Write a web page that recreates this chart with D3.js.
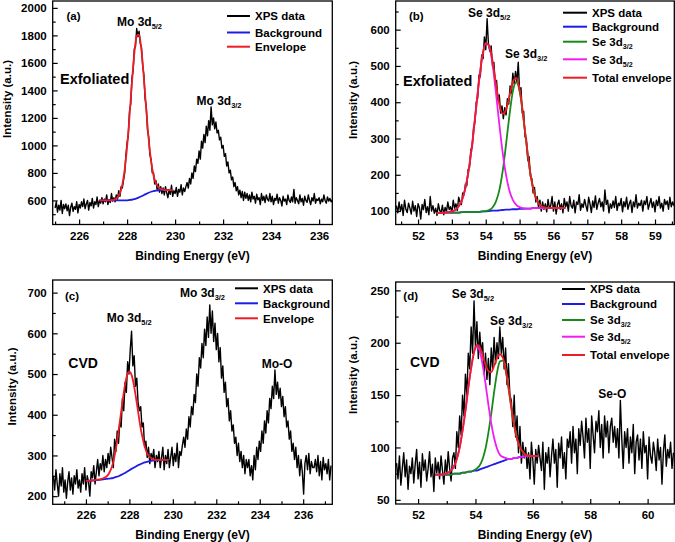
<!DOCTYPE html>
<html><head><meta charset="utf-8">
<script src="https://cdn.jsdelivr.net/npm/d3@7"></script>
<style>
body{margin:0;background:#fff;}
svg{display:block;}
text{font-family:"Liberation Sans",Arial,sans-serif;font-weight:bold;fill:#000;}
</style></head><body>
<svg id="chart" width="675" height="542"></svg>
<script>
// ---------- Panel (a): Mo 3d, exfoliated ----------
const xpsAStart = 225.0, xpsAStep = 0.05;
const xpsA = [
545,590,515,565,530,600,505,570,540,575,
525,565,490,550,580,520,555,535,590,510,
570,545,590,555,610,540,575,600,530,585,
560,615,545,590,570,625,555,600,580,620,
575,610,590,640,570,605,585,650,595,620,
590,640,610,670,630,700,690,745,800,930,
1020,1070,1250,1300,1490,1540,1700,1720,1850,1790,
1830,1740,1710,1580,1510,1340,1280,1110,1060,930,
900,800,800,720,745,680,720,660,700,650,
690,640,700,655,620,680,645,710,630,670,
650,695,630,680,660,715,640,690,665,700,
730,690,760,720,800,760,850,810,900,870,
960,900,1030,980,1080,1020,1140,1070,1180,1110,
1280,1150,1200,1120,1170,1090,1110,1040,1060,980,
1000,920,940,850,880,800,820,750,770,700,
730,670,700,640,675,620,665,600,660,615,
650,600,640,590,660,610,630,580,645,605,
620,570,650,600,630,585,640,610,595,650,
590,630,570,615,600,645,580,620,600,560,
630,595,610,570,640,600,585,625,590,680,
580,620,600,575,640,590,615,565,630,600,
585,640,600,570,620,595,650,580,610,600,
620,575,610,590,640,600,580,625,595,615,
590,605];
const fitAEnergy = [226.85,227.0,227.2,227.4,227.5,227.6,227.7,227.8,227.9,228.0,228.1,228.2,228.3,228.4,228.5,228.6,228.7,228.8,228.9,229.0,229.1,229.2,229.3,229.4,229.5,229.6,229.92];
const fitABackground = [600,600,600,600,600,600,600,600,600,601,603,605,609,615,622,630,639,648,656,663,668,672,674,675,675,675,675];
const fitAEnvelope = [600,600,600,603,608,622,653,715,824,991,1211,1453,1668,1798,1805,1689,1487,1255,1046,886,783,725,696,683,678,675,675];
const ticksAX = [226,228,230,232,234,236], minorAX = [225,227,229,231,233,235];
const ticksAY = [600,800,1000,1200,1400,1600,1800,2000], minorAY = [500,700,900,1100,1300,1500,1700,1900];

// ---------- Panel (b): Se 3d, exfoliated ----------
const xpsBStart = 51.36, xpsBStep = 0.04;
const xpsB = [
115,95,125,100,118,88,130,105,96,122,
108,92,127,100,115,85,120,110,78,118,
104,132,96,112,90,140,100,115,94,108,
88,120,102,95,116,90,110,98,125,104,
112,95,130,108,120,102,138,125,118,150,
145,175,170,215,220,270,275,330,345,400,
410,475,470,530,520,580,545,630,560,540,
555,500,510,450,460,405,420,370,390,355,
385,365,410,395,445,425,480,450,485,455,
510,430,440,370,375,305,300,240,250,195,
190,150,165,125,140,110,130,100,125,105,
120,98,132,108,115,140,100,125,92,118,
130,105,120,95,135,112,125,100,140,115,
108,130,95,125,118,145,102,120,110,132,
115,100,138,120,96,128,110,142,105,122,
135,112,125,100,158,118,130,95,120,108,
128,110,140,102,122,115,135,98,126,112,
138,105,120,130,96,125,112,145,108,122,
115,130,100,128,118,140,105,120,135,110,
125,98,130,115,140,108,122,100,132,118,
128,105,138,112,125,115];
const fitBEnergy = [52.55,52.7,52.9,53.1,53.2,53.3,53.4,53.5,53.6,53.7,53.8,53.9,54.0,54.1,54.2,54.3,54.4,54.5,54.6,54.7,54.8,54.9,55.0,55.1,55.2,55.3,55.4,55.5,55.6,55.7,55.8,56.0,56.35];
const fitBBackground = [95,95,96,96,96,97,97,97,97,98,98,99,99,100,101,101,102,103,104,104,105,105,106,106,107,107,108,108,108,108,108,109,109];
const fitBSe32 = [95,95,96,96,96,97,97,97,97,98,98,99,100,103,110,126,157,210,284,364,430,455,431,366,287,214,163,132,117,111,109,109,109];
const fitBSe52 = [95,95,97,103,113,131,164,215,285,371,457,527,562,554,505,427,340,261,199,156,131,117,111,108,107,107,108,108,108,108,108,109,109];
const fitBEnvelope = [95,95,97,103,113,131,164,215,285,371,457,527,563,557,514,452,395,368,379,416,456,467,436,368,288,214,163,132,117,111,109,109,109];
const ticksBX = [52,53,54,55,56,57,58,59], minorBX = [51.5,52.5,53.5,54.5,55.5,56.5,57.5,58.5,59.5];
const ticksBY = [100,200,300,400,500,600], minorBY = [150,250,350,450,550,650];

// ---------- Panel (c): Mo 3d, CVD ----------
const xpsCStart = 224.5, xpsCStep = 0.06;
const xpsC = [
250,215,265,230,200,255,225,270,210,240,
195,235,260,215,245,205,250,230,265,220,
240,210,255,230,270,215,250,235,200,260,
245,275,230,260,290,250,280,265,300,260,
290,270,305,280,320,295,270,340,310,360,
330,385,370,440,410,480,455,530,500,560,
605,520,545,470,490,430,410,420,370,380,
320,335,295,320,280,305,290,315,270,300,
285,310,270,295,320,265,300,280,315,270,
295,320,275,305,285,330,270,310,300,325,
345,320,365,340,395,370,420,400,450,430,
500,470,540,515,575,540,610,570,640,590,
670,600,655,580,625,560,600,530,565,490,
520,455,480,420,440,385,410,360,375,330,
345,300,330,285,310,270,300,255,290,270,
290,250,275,240,300,265,320,290,335,310,
360,330,385,355,410,380,440,415,470,440,
510,450,480,440,465,420,445,395,420,370,
385,340,360,310,330,290,320,270,300,250,
290,260,205,280,300,265,305,255,285,270,
270,290,260,300,250,285,240,295,265,280,
255,290,240,275];
const fitCEnergy = [226.0,226.3,226.6,226.8,227.0,227.1,227.2,227.3,227.4,227.5,227.6,227.7,227.8,227.9,228.0,228.1,228.2,228.3,228.4,228.5,228.6,228.7,228.8,228.9,229.0,229.1,229.3,229.5,229.8];
const fitCBackground = [237,238.5,240,241.5,242.7,243.3,244,245.7,247.3,249,251.7,254.3,257,260.3,263.7,267,270,273,276,278.3,280.7,283,284.3,285.7,287,287.5,288.5,288.7,289];
const fitCEnvelope = [237,239,241,244,251,260,273,294,323,359,399,439,474,498,506,498,475,443,408,373,345,323,307,298,294,290,289,289,289];
const ticksCX = [226,228,230,232,234,236], minorCX = [225,227,229,231,233,235,237];
const ticksCY = [200,300,400,500,600,700], minorCY = [250,350,450,550,650];

// ---------- Panel (d): Se 3d, CVD ----------
const xpsDStart = 51.25, xpsDStep = 0.05;
const xpsD = [
85,70,92,64,80,95,72,88,60,82,
75,90,66,84,98,70,86,62,94,78,
88,68,80,96,72,84,58,90,76,86,
70,92,78,65,88,74,96,80,68,90,
95,80,115,100,130,112,150,130,170,150,
190,175,215,190,240,195,220,185,210,190,
200,170,190,165,185,160,195,175,205,180,
200,185,215,190,205,175,195,160,180,150,
145,120,150,110,130,95,120,85,105,90,
100,80,95,70,105,88,65,98,85,102,
90,78,105,60,95,85,100,72,92,108,
85,98,62,104,90,110,80,95,70,108,
100,115,85,120,95,108,75,118,102,125,
110,90,128,105,118,80,130,112,95,125,
115,135,100,122,90,130,110,125,95,120,
128,105,120,100,118,90,145,108,80,115,
100,118,85,110,95,122,75,105,112,88,
108,80,115,95,102,70,110,92,85,105,
95,78,108,88,100,65,96,112,82,98,
90,105,80,95];
const fitDEnergy = [52.6,52.85,53.05,53.15,53.25,53.35,53.45,53.55,53.65,53.75,53.85,53.95,54.05,54.15,54.25,54.35,54.45,54.55,54.65,54.75,54.85,54.95,55.05,55.15,55.25,55.35,55.45,55.55,55.65,55.75,55.95,56.2];
const fitDBackground = [74,74,74,74,75,75,75,76,76,77,77,78,78,79,80,81,82,83,84,85,86,87,88,89,89,90,90,91,91,92,92,92];
const fitDSe52 = [74,74,76,78,82,89,100,116,135,157,176,191,196,192,179,161,141,123,109,99,93,91,90,89,89,90,90,91,91,92,92,92];
const fitDSe32 = [74,74,74,74,75,75,75,76,76,77,77,78,80,83,89,99,114,132,153,171,182,183,174,157,138,121,108,100,96,93,92,92];
const fitDEnvelope = [74,74,76,78,82,89,100,116,135,157,176,191,198,196,188,179,173,172,178,185,189,186,175,158,138,121,108,100,96,93,92,92];
const ticksDX = [52,54,56,58,60], minorDX = [53,55,57,59];
const ticksDY = [50,100,150,200,250], minorDY = [75,125,175,225];

// ---------- styling ----------
const C = {black:'#000', blue:'#1c1ce6', red:'#ee1c24', green:'#178a17', magenta:'#f01ef0'};
const FONT = '"Liberation Sans", Arial, sans-serif';

const svg = d3.select('#chart');

function xpsPoints(start, step, vals){ return vals.map((v,i)=>[start + i*step, v]); }
function fitPoints(en, vals){ return vals.map((v,i)=>[en[i], v]); }

function richText(g, x, y, main, sub, size, anchor){
  const t = g.append('text').attr('x', x).attr('y', y).attr('font-size', size)
    .attr('text-anchor', anchor || 'start');
  t.append('tspan').text(main);
  if (sub) t.append('tspan').attr('dy', 3).attr('font-size', size*0.62).text(sub);
  return t;
}

function drawPanel(p){
  const g = svg.append('g');
  const x = d3.scaleLinear().domain(p.xDomain).range([p.left, p.right]);
  const y = d3.scaleLinear().domain(p.yDomain).range([p.bottom, p.top]);
  const clipId = 'clip-' + p.id;
  svg.append('clipPath').attr('id', clipId).append('rect')
    .attr('x', p.left).attr('y', p.top).attr('width', p.right - p.left).attr('height', p.bottom - p.top);

  const styleAxis = sel => {
    sel.attr('font-family', FONT).attr('font-size', 11.5).attr('font-weight', 'bold');
    sel.select('.domain').remove();
    sel.selectAll('line').attr('stroke', '#000').attr('stroke-width', 1.2);
  };
  g.append('g').attr('transform', `translate(0,${p.bottom})`)
    .call(d3.axisBottom(x).tickValues(p.xTicks).tickSize(-5).tickPadding(7).tickFormat(d3.format('d')))
    .call(styleAxis);
  g.append('g').attr('transform', `translate(0,${p.bottom})`)
    .call(d3.axisBottom(x).tickValues(p.xMinor).tickSize(-3).tickFormat(''))
    .call(styleAxis);
  g.append('g').attr('transform', `translate(${p.left},0)`)
    .call(d3.axisLeft(y).tickValues(p.yTicks).tickSize(-5).tickPadding(6).tickFormat(d3.format('d')))
    .call(styleAxis);
  g.append('g').attr('transform', `translate(${p.left},0)`)
    .call(d3.axisLeft(y).tickValues(p.yMinor).tickSize(-3).tickFormat(''))
    .call(styleAxis);

  const plot = g.append('g').attr('clip-path', `url(#${clipId})`);
  p.series.forEach(s => {
    const line = d3.line().x(d => x(d[0])).y(d => y(d[1]))
      .curve(s.smooth ? d3.curveMonotoneX : d3.curveLinear);
    plot.append('path').datum(s.points).attr('d', line)
      .attr('fill', 'none').attr('stroke', s.color).attr('stroke-width', s.width)
      .attr('stroke-linejoin', 'round');
  });

  g.append('rect').attr('x', p.left).attr('y', p.top)
    .attr('width', p.right - p.left).attr('height', p.bottom - p.top)
    .attr('fill', 'none').attr('stroke', '#000').attr('stroke-width', 1.3);

  g.append('text').attr('x', (p.left + p.right)/2).attr('y', p.xTitleY)
    .attr('text-anchor', 'middle').attr('font-size', 12).text('Binding Energy (eV)');
  g.append('text').attr('transform', `translate(${p.yTitleX},${p.yTitleCY}) rotate(-90)`)
    .attr('text-anchor', 'middle').attr('font-size', 11.5).text('Intensity (a.u.)');

  p.notes.forEach(n => richText(g, n.x, n.y, n.main, n.sub, n.size));

  p.legend.forEach(l => {
    g.append('line').attr('x1', p.legX1).attr('x2', p.legX2).attr('y1', l.y).attr('y2', l.y)
      .attr('stroke', l.color).attr('stroke-width', 2);
    richText(g, p.legX2 + 5, l.y + 4.2, l.main, l.sub, 11.5);
  });
}

const panels = [
 { id:'a', left:52.7, right:332.3, top:1, bottom:224.5,
   xDomain:[224.9, 236.55], yDomain:[425, 2050],
   xTicks:ticksAX, xMinor:minorAX, yTicks:ticksAY, yMinor:minorAY,
   xTitleY:259.5, yTitleX:10.5, yTitleCY:99,
   series:[
     {points:xpsPoints(xpsAStart, xpsAStep, xpsA), color:C.black, width:1.4},
     {points:fitPoints(fitAEnergy, fitABackground), color:C.blue, width:1.8, smooth:true},
     {points:fitPoints(fitAEnergy, fitAEnvelope), color:C.red, width:1.8, smooth:true}],
   notes:[
     {x:66.5, y:20, main:'(a)', size:11.5},
     {x:117, y:26, main:'Mo 3d', sub:'5/2', size:12},
     {x:196.5, y:105, main:'Mo 3d', sub:'3/2', size:12},
     {x:60, y:84, main:'Exfoliated', size:14.5}],
   legX1:227, legX2:250,
   legend:[
     {y:16, color:C.black, main:'XPS data'},
     {y:32.5, color:C.blue, main:'Background'},
     {y:46.7, color:C.red, main:'Envelope'}]},
 { id:'b', left:395.7, right:674.3, top:1, bottom:224.5,
   xDomain:[51.34, 59.57], yDomain:[63, 679],
   xTicks:ticksBX, xMinor:minorBX, yTicks:ticksBY, yMinor:minorBY,
   xTitleY:259.5, yTitleX:357, yTitleCY:100,
   series:[
     {points:xpsPoints(xpsBStart, xpsBStep, xpsB), color:C.black, width:1.4},
     {points:fitPoints(fitBEnergy, fitBBackground), color:C.blue, width:1.8, smooth:true},
     {points:fitPoints(fitBEnergy, fitBSe32), color:C.green, width:1.8, smooth:true},
     {points:fitPoints(fitBEnergy, fitBSe52), color:C.magenta, width:1.8, smooth:true},
     {points:fitPoints(fitBEnergy, fitBEnvelope), color:C.red, width:1.8, smooth:true}],
   notes:[
     {x:409, y:20, main:'(b)', size:11.5},
     {x:468, y:17, main:'Se 3d', sub:'5/2', size:12},
     {x:505, y:58, main:'Se 3d', sub:'3/2', size:12},
     {x:403, y:86, main:'Exfoliated', size:14.5}],
   legX1:563, legX2:587,
   legend:[
     {y:12.7, color:C.black, main:'XPS data'},
     {y:26.7, color:C.blue, main:'Background'},
     {y:41.7, color:C.green, main:'Se 3d', sub:'3/2'},
     {y:59.3, color:C.magenta, main:'Se 3d', sub:'5/2'},
     {y:77.7, color:C.red, main:'Total envelope'}]},
 { id:'c', left:52.7, right:332.3, top:280, bottom:504.3,
   xDomain:[224.47, 237.34], yDomain:[180, 731],
   xTicks:ticksCX, xMinor:minorCX, yTicks:ticksCY, yMinor:minorCY,
   xTitleY:539.3, yTitleX:15.5, yTitleCY:386.5,
   series:[
     {points:xpsPoints(xpsCStart, xpsCStep, xpsC), color:C.black, width:1.4},
     {points:fitPoints(fitCEnergy, fitCBackground), color:C.blue, width:1.8, smooth:true},
     {points:fitPoints(fitCEnergy, fitCEnvelope), color:C.red, width:1.8, smooth:true}],
   notes:[
     {x:65, y:300, main:'(c)', size:11.5},
     {x:106.7, y:321.7, main:'Mo 3d', sub:'5/2', size:12},
     {x:180, y:296.7, main:'Mo 3d', sub:'3/2', size:12},
     {x:68.3, y:368, main:'CVD', size:14},
     {x:261.7, y:368, main:'Mo-O', size:12}],
   legX1:235, legX2:258,
   legend:[
     {y:288.3, color:C.black, main:'XPS data'},
     {y:303.3, color:C.blue, main:'Background'},
     {y:318.3, color:C.red, main:'Envelope'}]},
 { id:'d', left:395.7, right:674.3, top:282, bottom:504,
   xDomain:[51.22, 60.93], yDomain:[46, 258],
   xTicks:ticksDX, xMinor:minorDX, yTicks:ticksDY, yMinor:minorDY,
   xTitleY:539.3, yTitleX:357, yTitleCY:375,
   series:[
     {points:xpsPoints(xpsDStart, xpsDStep, xpsD), color:C.black, width:1.4},
     {points:fitPoints(fitDEnergy, fitDBackground), color:C.blue, width:1.8, smooth:true},
     {points:fitPoints(fitDEnergy, fitDSe32), color:C.green, width:1.8, smooth:true},
     {points:fitPoints(fitDEnergy, fitDSe52), color:C.magenta, width:1.8, smooth:true},
     {points:fitPoints(fitDEnergy, fitDEnvelope), color:C.red, width:1.8, smooth:true}],
   notes:[
     {x:403.3, y:300, main:'(d)', size:11.5},
     {x:451.7, y:298, main:'Se 3d', sub:'5/2', size:12},
     {x:490, y:325, main:'Se 3d', sub:'3/2', size:12},
     {x:410, y:366.7, main:'CVD', size:14},
     {x:598.3, y:398, main:'Se-O', size:12}],
   legX1:562, legX2:585,
   legend:[
     {y:289, color:C.black, main:'XPS data'},
     {y:304, color:C.blue, main:'Background'},
     {y:320, color:C.green, main:'Se 3d', sub:'3/2'},
     {y:336.7, color:C.magenta, main:'Se 3d', sub:'5/2'},
     {y:355, color:C.red, main:'Total envelope'}]}
];

panels.forEach(drawPanel);
</script>
</body></html>
